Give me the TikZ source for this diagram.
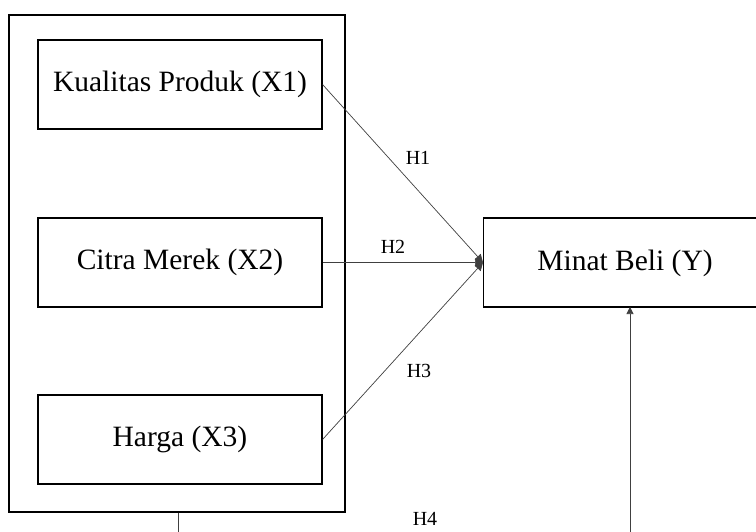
\documentclass[tikz,border=0pt]{standalone}
\usepackage{fontspec}
\setmainfont{Liberation Serif}
\usetikzlibrary{arrows.meta}
\begin{document}
\begin{tikzpicture}[x=1pt,y=-1pt,
  box/.style={draw=black, line width=1.1pt, rectangle, inner sep=0pt},
  var/.style={box, minimum width=284pt, minimum height=89pt, font=\fontsize{29.5}{32}\selectfont},
  conn/.style={draw=black!75, line width=0.7pt},
  hlab/.style={font=\fontsize{20}{22}\selectfont, inner sep=0pt},
  tip/.style={-{Triangle[length=8pt,width=8pt]}},
  smalltip/.style={-{Triangle[length=7pt,width=7pt]}}]
\useasboundingbox (0,0) rectangle (756,532);
\clip (0,0) rectangle (756,532);
\fill[white] (0,0) rectangle (756,532);
% outer group box
\node[box, minimum width=336pt, minimum height=497pt] (outer) at (177,263.5) {};
% variables
\node[var] (x1) at (180,84.5) {Kualitas Produk (X1)};
\node[var] (x2) at (180,262.5) {Citra Merek (X2)};
\node[var] (x3) at (180,439.5) {Harga (X3)};
\node[box, minimum width=320pt, minimum height=89pt, anchor=west] (y) at (483,262.5) {};
\node[font=\fontsize{29.5}{32}\selectfont, inner sep=0pt] (ytext) at (625,263) {Minat Beli (Y)};
% connectors
\draw[conn, tip] (x1.east) -- (y.west);
\draw[conn, tip] (x2.east) -- (y.west);
\draw[conn, tip] (x3.east) -- (y.west);
\coordinate (ybot) at (630,307);
\coordinate (c1) at (178,560);
\coordinate (c2) at (630,560);
\draw[conn] (outer.south -| c1) -- (c1) -- (c2);
\draw[conn, smalltip] (c2) -- (ybot);
% labels
\node[hlab] (h1) at (418,158) {H1};
\node[hlab] (h2) at (393,247) {H2};
\node[hlab] (h3) at (419,371) {H3};
\node[hlab] (h4) at (425,519) {H4};
\end{tikzpicture}
\end{document}
